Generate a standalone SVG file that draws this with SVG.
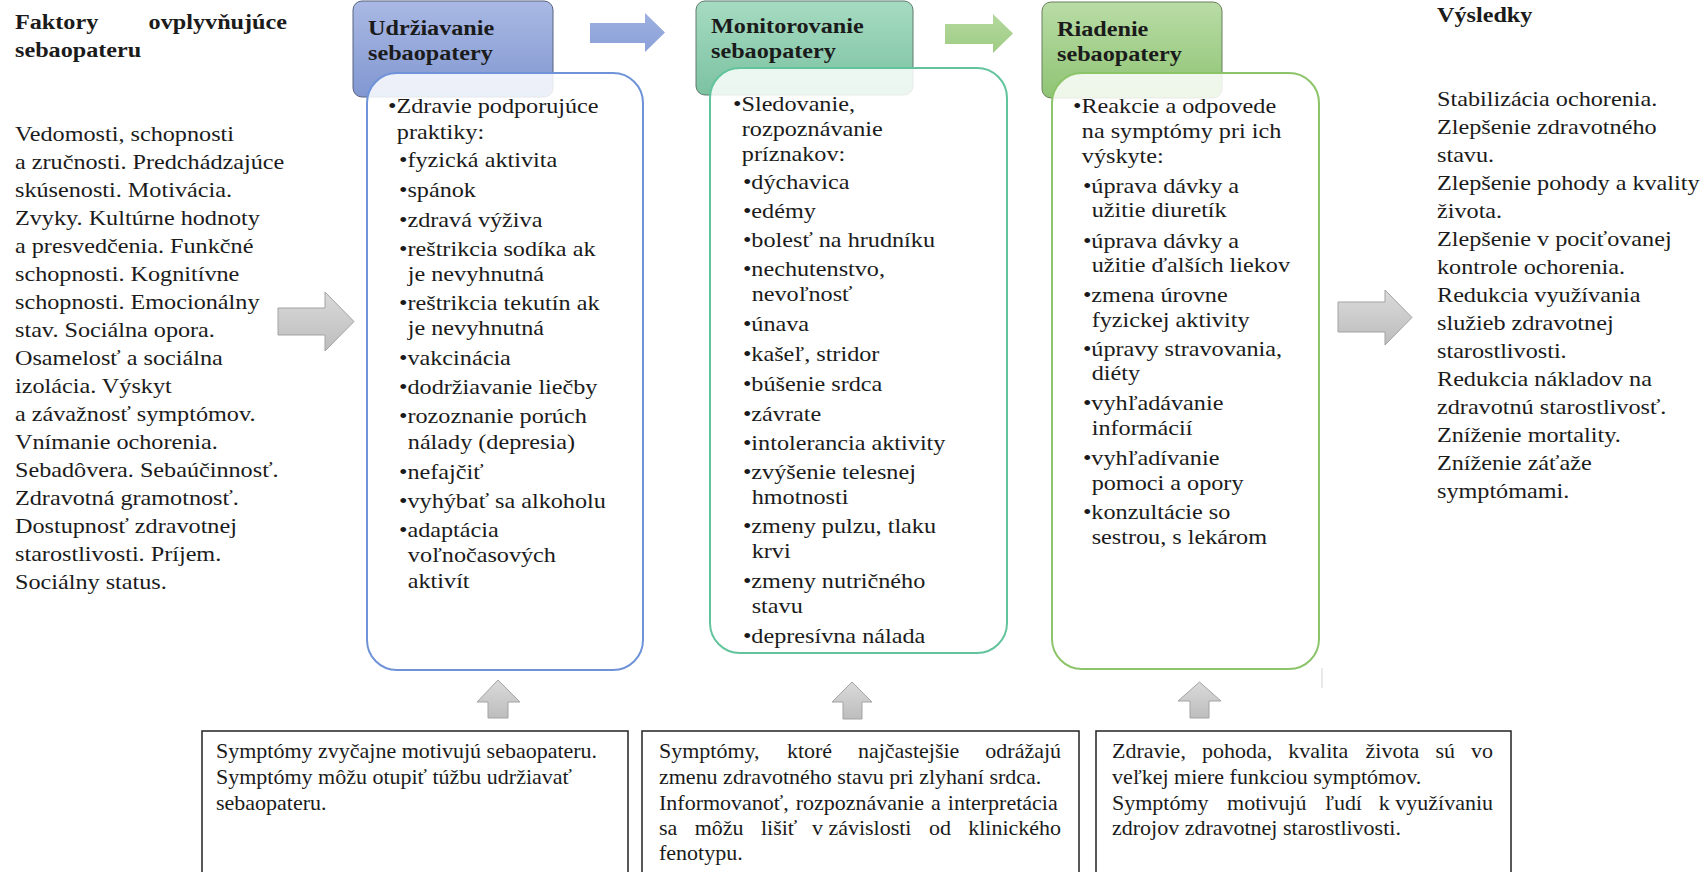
<svg xmlns="http://www.w3.org/2000/svg" width="1708" height="872" viewBox="0 0 1708 872">
<style>
.t{font-family:"Liberation Serif","Times New Roman",serif;font-size:22px;fill:#1b1b1b}
.b{font-weight:bold}
.s{font-size:20px}
.ga{fill:url(#gGray);stroke:#a3a3a3;stroke-width:1}
.box{fill:#fff;stroke:#222;stroke-width:1.5}
</style>
<defs>
<linearGradient id="gBlue" x1="0" y1="0" x2="0" y2="1"><stop offset="0" stop-color="#aab9e4"/><stop offset="1" stop-color="#8197d1"/></linearGradient>
<linearGradient id="gTeal" x1="0" y1="0" x2="0" y2="1"><stop offset="0" stop-color="#a6dbc2"/><stop offset="1" stop-color="#7cc2a1"/></linearGradient>
<linearGradient id="gGreen" x1="0" y1="0" x2="0" y2="1"><stop offset="0" stop-color="#b9dca6"/><stop offset="1" stop-color="#8fc474"/></linearGradient>
<linearGradient id="gGray" x1="0" y1="0" x2="0" y2="1"><stop offset="0" stop-color="#dadada"/><stop offset="1" stop-color="#bdbdbd"/></linearGradient>
<linearGradient id="gArrB" x1="0" y1="0" x2="0" y2="1"><stop offset="0" stop-color="#9db0e0"/><stop offset="1" stop-color="#8aa0d8"/></linearGradient>
<linearGradient id="gArrG" x1="0" y1="0" x2="0" y2="1"><stop offset="0" stop-color="#b4d89d"/><stop offset="1" stop-color="#9fcc85"/></linearGradient>
</defs>
<rect width="1708" height="872" fill="#fff"/>

<g id="factors">
<g transform="translate(15,0) scale(1.1,1)">
<text class="t b" x="0" y="29">Faktory</text>
<text class="t b" x="247.3" y="29" text-anchor="end">ovplyvňujúce</text>
<text class="t b" x="0" y="57">sebaopateru</text>
<text class="t" x="0" y="141">Vedomosti, schopnosti</text>
<text class="t" x="0" y="169">a zručnosti. Predchádzajúce</text>
<text class="t" x="0" y="197">skúsenosti. Motivácia.</text>
<text class="t" x="0" y="225">Zvyky. Kultúrne hodnoty</text>
<text class="t" x="0" y="253">a presvedčenia. Funkčné</text>
<text class="t" x="0" y="281">schopnosti. Kognitívne</text>
<text class="t" x="0" y="309">schopnosti. Emocionálny</text>
<text class="t" x="0" y="337">stav. Sociálna opora.</text>
<text class="t" x="0" y="365">Osamelosť a sociálna</text>
<text class="t" x="0" y="393">izolácia. Výskyt</text>
<text class="t" x="0" y="421">a závažnosť symptómov.</text>
<text class="t" x="0" y="449">Vnímanie ochorenia.</text>
<text class="t" x="0" y="477">Sebadôvera. Sebaúčinnosť.</text>
<text class="t" x="0" y="505">Zdravotná gramotnosť.</text>
<text class="t" x="0" y="533">Dostupnosť zdravotnej</text>
<text class="t" x="0" y="561">starostlivosti. Príjem.</text>
<text class="t" x="0" y="589">Sociálny status.</text>
</g>
</g>

<g id="connectors">
<polygon class="ga" points="278,308 325,308 325,292 354,321.5 325,351 325,335 278,335"/>
<polygon fill="url(#gArrB)" points="590,23 645,23 645,13 665,32.5 645,52 645,43 590,43"/>
<polygon fill="url(#gArrG)" points="945,24 993,24 993,14 1013,33.5 993,53 993,44 945,44"/>
<polygon class="ga" points="1338,302 1385,302 1385,290 1412,317.5 1385,345 1385,332 1338,332"/>
<polygon class="ga" points="498,680 520,702 508,702 508,718 488,718 488,702 477,702"/>
<polygon class="ga" points="852,682 872,702 862,702 862,719 843,719 843,702 832,702"/>
<polygon class="ga" points="1199.5,682 1221,701 1209,701 1209,718 1190,718 1190,701 1178,701"/>
<line x1="1322" y1="668" x2="1322" y2="688" stroke="#e2e2e2" stroke-width="1.5"/>
</g>

<g id="maintenance">
<rect x="353" y="1" width="200" height="96" rx="9" fill="url(#gBlue)" stroke="#56627e" stroke-width="1"/>
<g transform="translate(368,0) scale(1.1,1)">
<text class="t b" x="0" y="35">Udržiavanie</text>
<text class="t b" x="0" y="60">sebaopatery</text>
</g>
<rect x="367" y="73" width="276" height="597" rx="30" fill="#fff" fill-opacity="0.85" stroke="#6f93d8" stroke-width="2"/>
<g transform="translate(388,0) scale(1.1,1)">
<text class="t" x="0" y="113">•Zdravie podporujúce</text>
<text class="t" x="8" y="139">praktiky:</text>
<text class="t" x="10" y="167">•fyzická aktivita</text>
<text class="t" x="10" y="197">•spánok</text>
<text class="t" x="10" y="227">•zdravá výživa</text>
<text class="t" x="10" y="256">•reštrikcia sodíka ak</text>
<text class="t" x="18" y="281">je nevyhnutná</text>
<text class="t" x="10" y="310">•reštrikcia tekutín ak</text>
<text class="t" x="18" y="335">je nevyhnutná</text>
<text class="t" x="10" y="365">•vakcinácia</text>
<text class="t" x="10" y="394">•dodržiavanie liečby</text>
<text class="t" x="10" y="423">•rozoznanie porúch</text>
<text class="t" x="18" y="449">nálady (depresia)</text>
<text class="t" x="10" y="479">•nefajčiť</text>
<text class="t" x="10" y="508">•vyhýbať sa alkoholu</text>
<text class="t" x="10" y="537">•adaptácia</text>
<text class="t" x="18" y="562">voľnočasových</text>
<text class="t" x="18" y="588">aktivít</text>
</g>
</g>

<g id="monitoring">
<rect x="696" y="1" width="217" height="94" rx="9" fill="url(#gTeal)" stroke="#5e7a6c" stroke-width="1"/>
<g transform="translate(711,0) scale(1.1,1)">
<text class="t b" x="0" y="33">Monitorovanie</text>
<text class="t b" x="0" y="58">sebaopatery</text>
</g>
<rect x="710" y="68" width="297" height="585" rx="30" fill="#fff" fill-opacity="0.85" stroke="#62c49c" stroke-width="2"/>
<g transform="translate(733,0) scale(1.1,1)">
<text class="t" x="0" y="111">•Sledovanie,</text>
<text class="t" x="8" y="136">rozpoznávanie</text>
<text class="t" x="8" y="161">príznakov:</text>
<text class="t" x="9" y="189">•dýchavica</text>
<text class="t" x="9" y="218">•edémy</text>
<text class="t" x="9" y="247">•bolesť na hrudníku</text>
<text class="t" x="9" y="276">•nechutenstvo,</text>
<text class="t" x="17" y="301">nevoľnosť</text>
<text class="t" x="9" y="331">•únava</text>
<text class="t" x="9" y="361">•kašeľ, stridor</text>
<text class="t" x="9" y="391">•búšenie srdca</text>
<text class="t" x="9" y="421">•závrate</text>
<text class="t" x="9" y="450">•intolerancia aktivity</text>
<text class="t" x="9" y="479">•zvýšenie telesnej</text>
<text class="t" x="17" y="504">hmotnosti</text>
<text class="t" x="9" y="533">•zmeny pulzu, tlaku</text>
<text class="t" x="17" y="558">krvi</text>
<text class="t" x="9" y="588">•zmeny nutričného</text>
<text class="t" x="17" y="613">stavu</text>
<text class="t" x="9" y="643">•depresívna nálada</text>
</g>
</g>

<g id="management">
<rect x="1042" y="2" width="180" height="96" rx="9" fill="url(#gGreen)" stroke="#6a7e5e" stroke-width="1"/>
<g transform="translate(1057,0) scale(1.1,1)">
<text class="t b" x="0" y="36">Riadenie</text>
<text class="t b" x="0" y="61">sebaopatery</text>
</g>
<rect x="1052" y="73" width="267" height="596" rx="30" fill="#fff" fill-opacity="0.85" stroke="#8cc46a" stroke-width="2"/>
<g transform="translate(1073,0) scale(1.1,1)">
<text class="t" x="0" y="113">•Reakcie a odpovede</text>
<text class="t" x="8" y="138">na symptómy pri ich</text>
<text class="t" x="8" y="163">výskyte:</text>
<text class="t" x="9" y="193">•úprava dávky a</text>
<text class="t" x="17" y="217">užitie diuretík</text>
<text class="t" x="9" y="248">•úprava dávky a</text>
<text class="t" x="17" y="272">užitie ďalších liekov</text>
<text class="t" x="9" y="302">•zmena úrovne</text>
<text class="t" x="17" y="327">fyzickej aktivity</text>
<text class="t" x="9" y="356">•úpravy stravovania,</text>
<text class="t" x="17" y="380">diéty</text>
<text class="t" x="9" y="410">•vyhľadávanie</text>
<text class="t" x="17" y="435">informácií</text>
<text class="t" x="9" y="465">•vyhľadívanie</text>
<text class="t" x="17" y="490">pomoci a opory</text>
<text class="t" x="9" y="519">•konzultácie so</text>
<text class="t" x="17" y="544">sestrou, s lekárom</text>
</g>
</g>

<g id="outcomes">
<g transform="translate(1437,0) scale(1.1,1)">
<text class="t b" x="0" y="22">Výsledky</text>
<text class="t" x="0" y="106">Stabilizácia ochorenia.</text>
<text class="t" x="0" y="134">Zlepšenie zdravotného</text>
<text class="t" x="0" y="162">stavu.</text>
<text class="t" x="0" y="190">Zlepšenie pohody a kvality</text>
<text class="t" x="0" y="218">života.</text>
<text class="t" x="0" y="246">Zlepšenie v pociťovanej</text>
<text class="t" x="0" y="274">kontrole ochorenia.</text>
<text class="t" x="0" y="302">Redukcia využívania</text>
<text class="t" x="0" y="330">služieb zdravotnej</text>
<text class="t" x="0" y="358">starostlivosti.</text>
<text class="t" x="0" y="386">Redukcia nákladov na</text>
<text class="t" x="0" y="414">zdravotnú starostlivosť.</text>
<text class="t" x="0" y="442">Zníženie mortality.</text>
<text class="t" x="0" y="470">Zníženie záťaže</text>
<text class="t" x="0" y="498">symptómami.</text>
</g>
</g>

<g id="note-maintenance">
<rect class="box" x="202" y="731" width="426" height="160"/>
<g transform="translate(216,0) scale(1.1,1)">
<text class="t s" x="0" y="758">Symptómy zvyčajne motivujú sebaopateru.</text>
<text class="t s" x="0" y="784">Symptómy môžu otupiť túžbu udržiavať</text>
<text class="t s" x="0" y="810">sebaopateru.</text>
</g>
</g>

<g id="note-monitoring">
<rect class="box" x="642" y="731" width="437" height="160"/>
<g transform="translate(659,0) scale(1.1,1)">
<text class="t s" y="758"><tspan x="0">Symptómy,</tspan><tspan x="116.3">ktoré</tspan><tspan x="180.9">najčastejšie</tspan></text>
<text class="t s" x="365.5" y="758" text-anchor="end">odrážajú</text>
<text class="t s" x="0" y="784">zmenu zdravotného stavu pri zlyhaní srdca.</text>
<text class="t s" x="0" y="810" word-spacing="1.4">Informovanoť, rozpoznávanie a interpretácia</text>
<text class="t s" y="835"><tspan x="0">sa</tspan><tspan x="32.5">môžu</tspan><tspan x="92.7">lišiť</tspan><tspan x="139">v závislosti</tspan><tspan x="245.4">od</tspan></text>
<text class="t s" x="365.5" y="835" text-anchor="end">klinického</text>
<text class="t s" x="0" y="860">fenotypu.</text>
</g>
</g>

<g id="note-management">
<rect class="box" x="1096" y="731" width="415" height="160"/>
<g transform="translate(1112,0) scale(1.1,1)">
<text class="t s" y="758"><tspan x="0">Zdravie,</tspan><tspan x="81.8">pohoda,</tspan><tspan x="160.3">kvalita</tspan><tspan x="230.5">života</tspan><tspan x="294">sú</tspan></text>
<text class="t s" x="346.4" y="758" text-anchor="end">vo</text>
<text class="t s" x="0" y="784">veľkej miere funkciou symptómov.</text>
<text class="t s" y="810"><tspan x="0">Symptómy</tspan><tspan x="104.6">motivujú</tspan><tspan x="193.6">ľudí</tspan></text>
<text class="t s" x="346.4" y="810" text-anchor="end">k využívaniu</text>
<text class="t s" x="0" y="835">zdrojov zdravotnej starostlivosti.</text>
</g>
</g>
</svg>
